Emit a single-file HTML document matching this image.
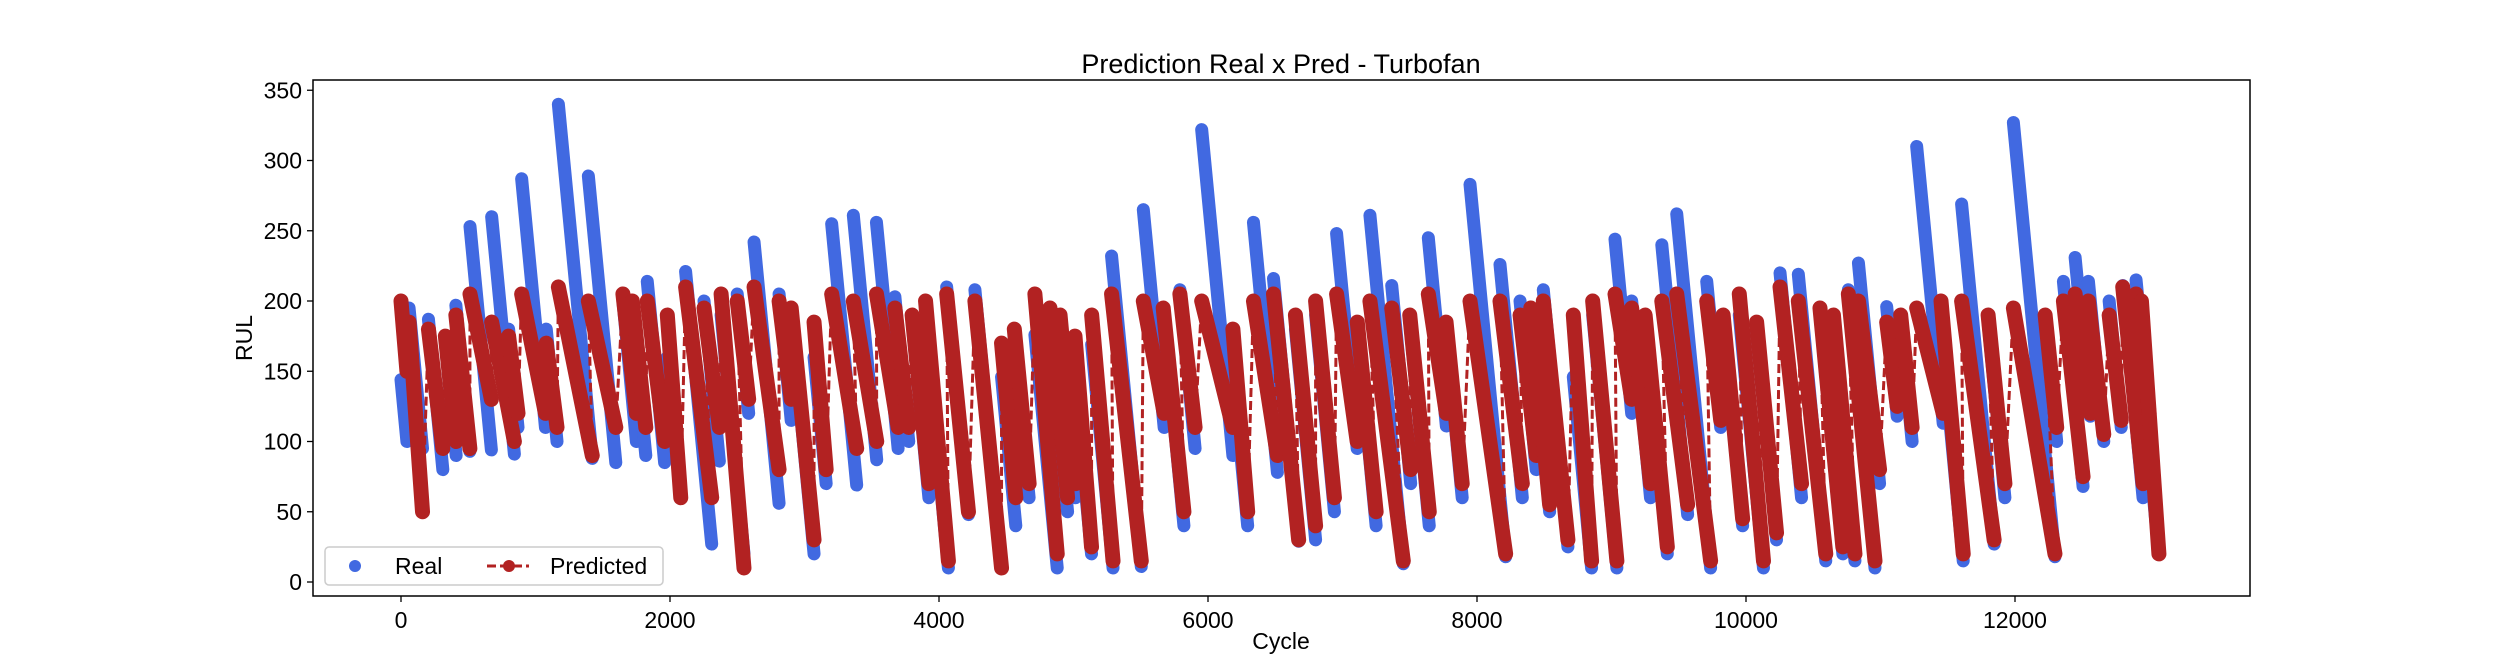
<!DOCTYPE html>
<html><head><meta charset="utf-8"><style>
html,body{margin:0;padding:0;background:#fff;}
svg{display:block;font-family:"Liberation Sans","DejaVu Sans",sans-serif;}
</style></head><body>
<svg id="chart" width="2500" height="670" viewBox="0 0 2500 670" xmlns="http://www.w3.org/2000/svg">
<rect width="2500" height="670" fill="#fff"/>
<text x="1281" y="73" text-anchor="middle" font-size="27" fill="#000">Prediction Real x Pred - Turbofan</text>
<g id="plot"></g>
<g id="axes"></g>
<text x="1281" y="649" text-anchor="middle" font-size="23">Cycle</text>
<text x="0" y="0" transform="translate(252,338) rotate(-90)" text-anchor="middle" font-size="23">RUL</text>
<g>
<rect x="325" y="547" width="338" height="38" rx="4" fill="#fff" fill-opacity="0.8" stroke="#ccc" stroke-width="1.5"/>
<circle cx="355" cy="566" r="6" fill="#4169E1"/>
<text x="395" y="574" font-size="23">Real</text>
<line x1="487" y1="566" x2="529" y2="566" stroke="#B22222" stroke-width="3" stroke-dasharray="9,4"/>
<circle cx="509" cy="566" r="6" fill="#B22222"/>
<text x="550" y="574" font-size="23">Predicted</text>
</g>
</svg>
<script>
// engine start cycles, real RUL start / end, predicted start / end
const engineStart = [0,60,204,330,408,513,674,800,897,1080,1170,1393,1650,1720,1831,1980,2116,2253,2380,2500,2625,2811,2901,3071,3202,3363,3535,3672,3800,3900,4057,4267,4465,4560,4713,4825,4900,5011,5135,5283,5519,5667,5791,5953,6185,6338,6487,6650,6800,6956,7110,7204,7366,7500,7638,7770,7948,8171,8320,8400,8493,8716,8860,9026,9150,9250,9374,9485,9708,9830,9950,10079,10253,10389,10550,10650,10761,10836,11046,11150,11269,11450,11603,11800,11988,12224,12360,12447,12546,12700,12801,12900,12940];
const realStart = [144,195,187,170,197,253,260,180,287,180,340,289,200,190,214,160,221,200,190,205,242,205,190,160,255,261,256,203,185,180,210,208,146,170,176,181,175,143,169,232,265,194,208,322,150,256,216,180,190,248,180,261,211,185,245,180,283,226,200,190,208,146,190,244,200,185,240,262,214,185,190,178,220,219,190,175,208,227,196,185,310,180,269,185,327,186,214,231,214,200,211,215,150];
const realEnd = [100,95,80,90,93,94,91,110,110,100,88,85,100,90,85,60,27,86,20,120,56,115,20,70,69,87,95,100,60,10,48,10,40,60,10,50,60,20,10,11,110,40,95,90,40,78,29,30,50,95,40,13,70,40,111,60,18,60,80,50,25,10,10,120,60,20,48,10,110,40,10,30,60,15,20,15,10,70,118,100,113,15,27,60,18,100,68,118,100,110,60,118,20];
const predStart = [200,185,180,175,190,205,185,175,205,170,210,200,205,200,200,190,210,195,205,200,210,200,195,185,205,200,205,195,190,200,205,200,170,180,205,195,190,175,190,205,200,195,205,200,180,200,205,190,200,205,185,200,195,190,205,185,200,200,190,195,200,190,200,205,195,190,200,205,200,190,205,185,210,200,195,190,205,200,185,190,195,200,200,190,195,190,200,205,200,190,210,205,200];
const predEnd = [150,50,95,100,95,130,100,120,120,110,90,110,120,110,100,60,60,110,10,130,80,130,30,80,95,100,110,110,70,15,50,10,60,70,20,60,70,25,15,15,120,50,110,110,50,90,30,40,60,100,50,15,80,50,120,70,20,70,90,55,30,15,15,130,70,25,55,15,115,45,15,35,70,20,25,20,15,80,125,110,120,20,30,70,20,110,75,120,105,115,70,120,20];
const yTicks = [0,50,100,150,200,250,300,350];
const xTicks = [0,2000,4000,6000,8000,10000,12000];

const NS = "http://www.w3.org/2000/svg";
const L = 313, R = 2250, T = 80, B = 596;
const x0 = 401, xScale = 0.1345, y0 = 582, yScale = 1.405;
function sx(v){ return x0 + v * xScale; }
function sy(v){ return y0 - v * yScale; }

const plot = document.getElementById('plot');
const axes = document.getElementById('axes');

for (let i = 0; i < engineStart.length; i++) {
  const span = realStart[i] - realEnd[i];
  const ln = document.createElementNS(NS, 'line');
  ln.setAttribute('x1', sx(engineStart[i])); ln.setAttribute('y1', sy(realStart[i]));
  ln.setAttribute('x2', sx(engineStart[i] + span)); ln.setAttribute('y2', sy(realEnd[i]));
  ln.setAttribute('stroke', '#4169E1'); ln.setAttribute('stroke-width', '13'); ln.setAttribute('stroke-linecap', 'round');
  
  
  plot.appendChild(ln);
}
let pts = [];
for (let i = 0; i < engineStart.length; i++) {
  const span = realStart[i] - realEnd[i];
  pts.push(sx(engineStart[i]) + ',' + sy(predStart[i]));
  pts.push(sx(engineStart[i] + span) + ',' + sy(predEnd[i]));
}
const pl = document.createElementNS(NS, 'polyline');
pl.setAttribute('points', pts.join(' '));
pl.setAttribute('fill', 'none'); pl.setAttribute('stroke', '#B22222'); pl.setAttribute('stroke-width', '3'); pl.setAttribute('stroke-dasharray', '9,4');


plot.appendChild(pl);
for (let i = 0; i < engineStart.length; i++) {
  const span = realStart[i] - realEnd[i];
  const ln = document.createElementNS(NS, 'line');
  ln.setAttribute('x1', sx(engineStart[i])); ln.setAttribute('y1', sy(predStart[i]));
  ln.setAttribute('x2', sx(engineStart[i] + span)); ln.setAttribute('y2', sy(predEnd[i]));
  ln.setAttribute('stroke', '#B22222'); ln.setAttribute('stroke-width', '15'); ln.setAttribute('stroke-linecap', 'round');
  
  
  plot.appendChild(ln);
}
const fr = document.createElementNS(NS, 'rect');
fr.setAttribute('x', L); fr.setAttribute('y', T); fr.setAttribute('width', R - L); fr.setAttribute('height', B - T);
fr.setAttribute('fill', 'none'); fr.setAttribute('stroke', '#000'); fr.setAttribute('stroke-width', '1.5');


axes.appendChild(fr);
yTicks.forEach(v => {
  const t = document.createElementNS(NS, 'line');
  t.setAttribute('x1', L - 6); t.setAttribute('x2', L); t.setAttribute('y1', sy(v)); t.setAttribute('y2', sy(v));
  t.setAttribute('stroke', '#000'); t.setAttribute('stroke-width', '1.3');
  
  
  axes.appendChild(t);
  const tx = document.createElementNS(NS, 'text');
  tx.setAttribute('x', L - 11); tx.setAttribute('y', sy(v) + 8); tx.setAttribute('text-anchor', 'end'); tx.setAttribute('font-size', '23');
  tx.textContent = v;
  
  
  axes.appendChild(tx);
});
xTicks.forEach(v => {
  const t = document.createElementNS(NS, 'line');
  t.setAttribute('x1', sx(v)); t.setAttribute('x2', sx(v)); t.setAttribute('y1', B); t.setAttribute('y2', B + 6);
  t.setAttribute('stroke', '#000'); t.setAttribute('stroke-width', '1.3');
  
  
  axes.appendChild(t);
  const tx = document.createElementNS(NS, 'text');
  tx.setAttribute('x', sx(v)); tx.setAttribute('y', B + 32); tx.setAttribute('text-anchor', 'middle'); tx.setAttribute('font-size', '23');
  tx.textContent = v;
  
  
  axes.appendChild(tx);
});
</script>
</body></html>
